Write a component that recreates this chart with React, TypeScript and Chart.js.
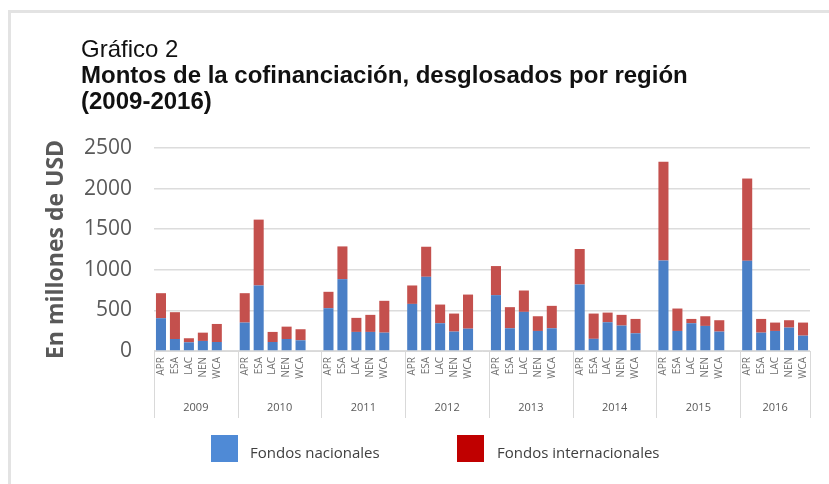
import React, { useEffect, useRef } from "react";
import { Chart, registerables } from "chart.js";

Chart.register(...registerables);

const regions = ["APR", "ESA", "LAC", "NEN", "WCA"];
const years = ["2009", "2010", "2011", "2012", "2013", "2014", "2015", "2016"];

// Values in millions of USD, ordered year by year, region by region
const fondosNacionales = [
  404, 148, 107, 124, 111,
  350, 807, 111, 148, 132,
  527, 885, 235, 235, 226,
  580, 914, 342, 239, 275,
  688, 280, 482, 247, 280,
  819, 150, 354, 313, 218,
  1115, 247, 342, 309, 239,
  1111, 226, 247, 288, 189,
];

const fondosInternacionales = [
  308, 330, 50, 102, 222,
  362, 811, 124, 152, 136,
  202, 403, 173, 210, 392,
  227, 370, 230, 222, 420,
  358, 260, 263, 181, 276,
  437, 311, 119, 132, 177,
  1215, 276, 53, 119, 140,
  1013, 169, 103, 91, 161,
];

const yTicks = [0, 500, 1000, 1500, 2000, 2500];

// Build category slots: each year has 5 regions plus an empty spacer slot (except the last year)
const labels: string[] = [];
const nacData: (number | null)[] = [];
const intData: (number | null)[] = [];
const groupStarts: number[] = [];
years.forEach((y, yi) => {
  groupStarts.push(labels.length);
  regions.forEach((r, ri) => {
    labels.push(r);
    nacData.push(fondosNacionales[yi * regions.length + ri]);
    intData.push(fondosInternacionales[yi * regions.length + ri]);
  });
  if (yi < years.length - 1) {
    labels.push("");
    nacData.push(null);
    intData.push(null);
  }
});

const groupPlugin = {
  id: "yearGroups",
  afterDraw(chart: any) {
    const xs = chart.scales.x;
    const ctx = chart.ctx;
    const slot = (xs.right - xs.left) / labels.length;
    const base = chart.chartArea.bottom;
    ctx.save();
    ctx.strokeStyle = "#d9d9d9";
    ctx.lineWidth = 1;
    const bounds = groupStarts.map((s) => xs.left + s * slot);
    bounds.push(xs.right);
    bounds.forEach((bx) => {
      const px = Math.round(bx) + 0.5;
      ctx.beginPath();
      ctx.moveTo(px, base);
      ctx.lineTo(px, 418);
      ctx.stroke();
    });
    ctx.fillStyle = "#595959";
    ctx.font = "11px 'Open Sans'";
    ctx.textAlign = "center";
    ctx.textBaseline = "middle";
    years.forEach((y, i) => {
      ctx.fillText(y, (bounds[i] + bounds[i + 1]) / 2, 408);
    });
    ctx.restore();
  },
};

export default function App() {
  const ref = useRef<HTMLCanvasElement>(null);
  useEffect(() => {
    if (!ref.current) return;
    const chart = new Chart(ref.current, {
      type: "bar",
      data: {
        labels,
        datasets: [
          {
            label: "Fondos nacionales",
            data: nacData,
            backgroundColor: "#4a7fc6",
            categoryPercentage: 1,
            barPercentage: 0.72,
          },
          {
            label: "Fondos internacionales",
            data: intData,
            backgroundColor: "#c4504d",
            categoryPercentage: 1,
            barPercentage: 0.72,
          },
        ],
      },
      options: {
        animation: false,
        responsive: true,
        maintainAspectRatio: false,
        layout: { padding: { top: 148, right: 19, bottom: 0, left: 0 } },
        plugins: { legend: { display: false }, tooltip: { enabled: false } },
        scales: {
          x: {
            stacked: true,
            grid: { display: false, drawTicks: false },
            border: { display: true, color: "#d9d9d9", width: 1 },
            ticks: {
              autoSkip: false,
              minRotation: 90,
              maxRotation: 90,
              padding: 6,
              color: "#6f6f6f",
              font: { family: "'Open Sans'", size: 10 },
            },
            afterFit: (s: any) => {
              s.height = 133;
            },
          },
          y: {
            stacked: true,
            min: 0,
            max: 2500,
            afterBuildTicks: (s: any) => {
              s.ticks = yTicks.map((v) => ({ value: v }));
            },
            grid: { color: "#dcdcdc", lineWidth: 1.5, drawTicks: false },
            border: { display: false },
            ticks: {
              padding: 22,
              color: "#595959",
              font: { family: "'Open Sans'", size: 21 },
              callback: (v: any) => String(v),
            },
            title: {
              display: true,
              text: "En millones de USD",
              color: "#595959",
              font: { family: "'Open Sans'", size: 23, weight: "bold" },
              padding: { top: 43, bottom: 0 },
            },
            afterFit: (s: any) => {
              s.width = 154;
            },
          },
        },
      },
      plugins: [groupPlugin],
    });
    return () => chart.destroy();
  }, []);

  const legendText: React.CSSProperties = {
    position: "absolute",
    top: 442,
    fontFamily: "'Open Sans'",
    fontSize: 15,
    lineHeight: "20px",
    color: "#404040",
    whiteSpace: "nowrap",
  };

  return (
    <div
      style={{
        position: "absolute",
        left: 0,
        top: 0,
        width: 829,
        height: 484,
        background: "#ffffff",
        overflow: "hidden",
      }}
    >
      <div style={{ position: "absolute", left: 8, top: 10, width: 821, height: 3, background: "#e3e3e3" }} />
      <div style={{ position: "absolute", left: 8, top: 10, width: 3, height: 474, background: "#e3e3e3" }} />
      <div style={{ position: "absolute", left: 0, top: 0, width: 829, height: 484 }}>
        <canvas ref={ref} />
      </div>
      <div
        style={{
          position: "absolute",
          left: 81,
          top: 36,
          fontFamily: "'Liberation Sans', Arial, sans-serif",
          fontSize: 24,
          lineHeight: "26px",
          color: "#111",
          whiteSpace: "nowrap",
        }}
      >
        <div>Gráfico 2</div>
        <div style={{ fontWeight: "bold" }}>Montos de la cofinanciación, desglosados por región</div>
        <div style={{ fontWeight: "bold" }}>(2009-2016)</div>
      </div>
      <div style={{ position: "absolute", left: 211, top: 435, width: 27, height: 27, background: "#4f8ad6" }} />
      <div style={{ ...legendText, left: 250 }}>Fondos nacionales</div>
      <div style={{ position: "absolute", left: 457, top: 435, width: 27, height: 27, background: "#c00000" }} />
      <div style={{ ...legendText, left: 497 }}>Fondos internacionales</div>
    </div>
  );
}
